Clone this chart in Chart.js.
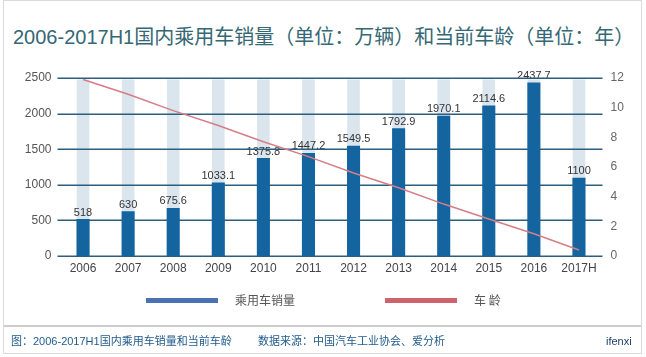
<!DOCTYPE html>
<html>
<head>
<meta charset="utf-8">
<script src="https://cdn.jsdelivr.net/npm/chart.js@4.4.1/dist/chart.umd.min.js"></script>
<style>
  html, body { margin: 0; padding: 0; background: #ffffff; }
  body { width: 646px; height: 357px; position: relative; overflow: hidden;
         font-family: "Liberation Sans", "Noto Sans CJK SC", sans-serif; }
  #frame { position: absolute; left: 3px; top: 0px; width: 637px; height: 352px;
           border: 1px solid #dadada; }
  #sep { position: absolute; left: 4px; top: 325px; width: 637px; height: 2px; background: #cdcdcd; }
  #title { position: absolute; left: 13px; top: 24px; font-size: 20px; line-height: 26px;
           color: #356875; white-space: nowrap; }
  .foot { position: absolute; top: 334px; font-size: 11px; line-height: 14px; color: #1f5a8c; white-space: nowrap; }
  #c { position: absolute; left: 0; top: 0; }
</style>
</head>
<body>
<div id="frame"></div>
<div id="sep"></div>
<div id="title">2006-2017H1国内乘用车销量（单位：万辆）和当前车龄（单位：年）</div>
<canvas id="c" width="646" height="357"></canvas>
<div class="foot" style="left:11px;">图：2006-2017H1国内乘用车销量和当前车龄</div>
<div class="foot" style="left:258px;">数据来源：中国汽车工业协会、爱分析</div>
<div class="foot" style="left:606px;color:#1d3f66;">ifenxi</div>
<script>
// ---- data ----
const categories = ['2006','2007','2008','2009','2010','2011','2012','2013','2014','2015','2016','2017H'];
const salesValues = [518, 630, 675.6, 1033.1, 1375.8, 1447.2, 1549.5, 1792.9, 1970.1, 2114.6, 2437.7, 1100];
const backgroundBarValues = [2480, 2480, 2480, 2480, 2480, 2480, 2480, 2480, 2480, 2480, 2480, 2480];
const vehicleAge = [11.9, 10.9, 9.8, 8.8, 7.7, 6.7, 5.6, 4.6, 3.5, 2.5, 1.5, 0.4];
const leftTicks = [0, 500, 1000, 1500, 2000, 2500];
const rightTicks = [0, 2, 4, 6, 8, 10, 12];
const legendLabels = ['乘用车销量', '车 龄'];

const BAR_COLOR = '#14649f';
const BG_BAR_COLOR = '#dbe5ee';
const LINE_COLOR = '#d67d87';
const GRID_COLOR = '#2d5f7c';

const gridAndLabels = {
  id: 'gridAndLabels',
  beforeDatasetDraw(chart, args) {
    if (args.index !== 1) return;
    const ctx = chart.ctx;
    const area = chart.chartArea;
    const meta = chart.getDatasetMeta(1);
    ctx.save();
    ctx.font = '11px "Liberation Sans", sans-serif';
    ctx.fillStyle = '#333333';
    ctx.textAlign = 'center';
    ctx.textBaseline = 'bottom';
    meta.data.forEach((el, i) => {
      ctx.fillText(String(salesValues[i]), el.x, el.y - 1);
    });
    const ys = chart.scales.y;
    ctx.strokeStyle = GRID_COLOR;
    ctx.lineWidth = 1.5;
    leftTicks.forEach(v => {
      const y = Math.round(ys.getPixelForValue(v)) + 0.25;
      ctx.beginPath();
      ctx.moveTo(area.left - 3, y);
      ctx.lineTo(area.right + 1, y);
      ctx.stroke();
    });
    ctx.restore();
  }
};

const customLegend = {
  id: 'customLegend',
  afterDraw(chart) {
    const ctx = chart.ctx;
    const items = [
      { color: '#4a72b2', x: 146, text: legendLabels[0], tx: 235 },
      { color: '#cd646c', x: 385, text: legendLabels[1], tx: 474 }
    ];
    ctx.save();
    ctx.font = '12px "Noto Sans CJK SC", sans-serif';
    ctx.textBaseline = 'middle';
    items.forEach(it => {
      ctx.fillStyle = it.color;
      ctx.fillRect(it.x, 298, 72, 5);
      ctx.fillStyle = '#555555';
      ctx.fillText(it.text, it.tx, 300.5);
    });
    ctx.restore();
  }
};

new Chart(document.getElementById('c'), {
  data: {
    labels: categories,
    datasets: [
      { type: 'line', label: '车龄', data: vehicleAge, yAxisID: 'y1', order: 0,
        borderColor: LINE_COLOR, borderWidth: 1.5, pointRadius: 0, tension: 0, clip: false },
      { type: 'bar', label: '乘用车销量', data: salesValues, yAxisID: 'y', order: 1,
        backgroundColor: BAR_COLOR, grouped: false, barPercentage: 0.29, categoryPercentage: 1 },
      { type: 'bar', label: 'bg', data: backgroundBarValues, yAxisID: 'y', order: 2,
        backgroundColor: BG_BAR_COLOR, grouped: false, barPercentage: 0.28, categoryPercentage: 1 }
    ]
  },
  options: {
    responsive: false,
    animation: false,
    layout: { padding: { left: 0, right: 14.5, top: 78, bottom: 77 } },
    plugins: { legend: { display: false }, tooltip: { enabled: false }, title: { display: false } },
    scales: {
      x: {
        grid: { display: false, drawTicks: false, tickLength: 0 }, border: { display: false },
        ticks: { color: '#444444', font: { size: 12, family: '"Liberation Sans", sans-serif' }, padding: 5, maxRotation: 0, autoSkip: false },
        afterFit(s) { s.height = 24; }
      },
      y: {
        position: 'left', min: 0, max: 2500,
        grid: { display: false, drawTicks: false, tickLength: 0 }, border: { display: false },
        afterBuildTicks(s) { s.ticks = leftTicks.map(v => ({ value: v })); },
        ticks: { color: '#555555', font: { size: 12, family: '"Liberation Sans", sans-serif' }, padding: 9,
                 callback: v => String(v) },
        afterFit(s) { s.width = 60.5; }
      },
      y1: {
        position: 'right', min: 0, max: 12,
        grid: { display: false, drawTicks: false, tickLength: 0 }, border: { display: false },
        afterBuildTicks(s) { s.ticks = rightTicks.map(v => ({ value: v })); },
        ticks: { color: '#666666', font: { size: 12, family: '"Liberation Sans", sans-serif' }, padding: 9,
                 callback: v => String(v) },
        afterFit(s) { s.width = 30; }
      }
    }
  },
  plugins: [gridAndLabels, customLegend]
});
</script>
</body>
</html>
